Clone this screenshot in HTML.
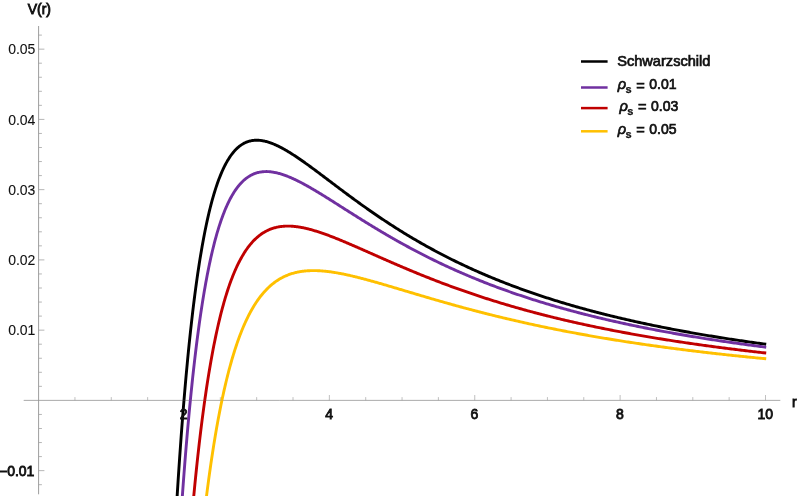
<!DOCTYPE html>
<html><head><meta charset="utf-8"><title>V(r)</title>
<style>
html,body{margin:0;padding:0;background:#fff;}
svg{display:block;}
text{font-family:"Liberation Sans",sans-serif;font-size:14px;fill:#111;stroke:#111;stroke-width:0.1px;}
text.b{stroke:#111;stroke-width:0.85px;}
text.lg{font-size:14.6px;stroke:#111;stroke-width:0.7px;}
.sub{font-size:11px;font-weight:bold;stroke-width:0.25px;}
.curves path{fill:none;stroke-width:2.9;stroke-linejoin:round;stroke-linecap:square;}
.axes line{stroke:#8c8c8c;stroke-width:1;}
.axes line.tx{stroke-width:0.65;}
.axes line.ty{stroke-width:0.75;}
</style></head>
<body>
<svg width="797" height="497" viewBox="0 0 797 497">
<rect width="797" height="497" fill="#ffffff"/>
<defs><clipPath id="cp"><rect x="24" y="26" width="757" height="469.5"/></clipPath></defs>
<g class="axes" opacity="0.85">
<line x1="23.6" y1="400.4" x2="780.3" y2="400.4" opacity="0.72"/>
<line x1="38.6" y1="26" x2="38.6" y2="494.3"/>
<line class="tx" x1="74.94" y1="400.40" x2="74.94" y2="397.10"/>
<line class="tx" x1="111.29" y1="400.40" x2="111.29" y2="397.10"/>
<line class="tx" x1="147.63" y1="400.40" x2="147.63" y2="397.10"/>
<line class="tx" x1="183.98" y1="400.40" x2="183.98" y2="395.00"/>
<line class="tx" x1="220.32" y1="400.40" x2="220.32" y2="397.10"/>
<line class="tx" x1="256.67" y1="400.40" x2="256.67" y2="397.10"/>
<line class="tx" x1="293.01" y1="400.40" x2="293.01" y2="397.10"/>
<line class="tx" x1="329.36" y1="400.40" x2="329.36" y2="395.00"/>
<line class="tx" x1="365.71" y1="400.40" x2="365.71" y2="397.10"/>
<line class="tx" x1="402.05" y1="400.40" x2="402.05" y2="397.10"/>
<line class="tx" x1="438.39" y1="400.40" x2="438.39" y2="397.10"/>
<line class="tx" x1="474.74" y1="400.40" x2="474.74" y2="395.00"/>
<line class="tx" x1="511.09" y1="400.40" x2="511.09" y2="397.10"/>
<line class="tx" x1="547.43" y1="400.40" x2="547.43" y2="397.10"/>
<line class="tx" x1="583.77" y1="400.40" x2="583.77" y2="397.10"/>
<line class="tx" x1="620.12" y1="400.40" x2="620.12" y2="395.00"/>
<line class="tx" x1="656.47" y1="400.40" x2="656.47" y2="397.10"/>
<line class="tx" x1="692.81" y1="400.40" x2="692.81" y2="397.10"/>
<line class="tx" x1="729.15" y1="400.40" x2="729.15" y2="397.10"/>
<line class="tx" x1="765.50" y1="400.40" x2="765.50" y2="395.00"/>
<line class="ty" x1="38.60" y1="484.70" x2="41.90" y2="484.70"/>
<line class="ty" x1="38.60" y1="470.65" x2="44.40" y2="470.65"/>
<line class="ty" x1="38.60" y1="456.60" x2="41.90" y2="456.60"/>
<line class="ty" x1="38.60" y1="442.55" x2="41.90" y2="442.55"/>
<line class="ty" x1="38.60" y1="428.50" x2="41.90" y2="428.50"/>
<line class="ty" x1="38.60" y1="414.45" x2="41.90" y2="414.45"/>
<line class="ty" x1="38.60" y1="386.35" x2="41.90" y2="386.35"/>
<line class="ty" x1="38.60" y1="372.30" x2="41.90" y2="372.30"/>
<line class="ty" x1="38.60" y1="358.25" x2="41.90" y2="358.25"/>
<line class="ty" x1="38.60" y1="344.20" x2="41.90" y2="344.20"/>
<line class="ty" x1="38.60" y1="330.15" x2="44.40" y2="330.15"/>
<line class="ty" x1="38.60" y1="316.10" x2="41.90" y2="316.10"/>
<line class="ty" x1="38.60" y1="302.05" x2="41.90" y2="302.05"/>
<line class="ty" x1="38.60" y1="288.00" x2="41.90" y2="288.00"/>
<line class="ty" x1="38.60" y1="273.95" x2="41.90" y2="273.95"/>
<line class="ty" x1="38.60" y1="259.90" x2="44.40" y2="259.90"/>
<line class="ty" x1="38.60" y1="245.85" x2="41.90" y2="245.85"/>
<line class="ty" x1="38.60" y1="231.80" x2="41.90" y2="231.80"/>
<line class="ty" x1="38.60" y1="217.75" x2="41.90" y2="217.75"/>
<line class="ty" x1="38.60" y1="203.70" x2="41.90" y2="203.70"/>
<line class="ty" x1="38.60" y1="189.65" x2="44.40" y2="189.65"/>
<line class="ty" x1="38.60" y1="175.60" x2="41.90" y2="175.60"/>
<line class="ty" x1="38.60" y1="161.55" x2="41.90" y2="161.55"/>
<line class="ty" x1="38.60" y1="147.50" x2="41.90" y2="147.50"/>
<line class="ty" x1="38.60" y1="133.45" x2="41.90" y2="133.45"/>
<line class="ty" x1="38.60" y1="119.40" x2="44.40" y2="119.40"/>
<line class="ty" x1="38.60" y1="105.35" x2="41.90" y2="105.35"/>
<line class="ty" x1="38.60" y1="91.30" x2="41.90" y2="91.30"/>
<line class="ty" x1="38.60" y1="77.25" x2="41.90" y2="77.25"/>
<line class="ty" x1="38.60" y1="63.20" x2="41.90" y2="63.20"/>
<line class="ty" x1="38.60" y1="49.15" x2="44.40" y2="49.15"/>
<line class="ty" x1="38.60" y1="35.10" x2="41.90" y2="35.10"/>
</g>
<g class="curves" clip-path="url(#cp)">
<path d="M175.26,527.27 L175.98,514.86 L176.71,502.82 L177.44,491.14 L178.16,479.80 L178.89,468.80 L179.62,458.13 L180.35,447.77 L181.07,437.72 L181.80,427.97 L182.53,418.50 L183.25,409.31 L183.98,400.40 L184.71,391.75 L185.43,383.35 L186.16,375.21 L186.89,367.30 L187.61,359.63 L188.34,352.18 L189.07,344.96 L189.80,337.95 L190.52,331.15 L191.25,324.54 L191.98,318.14 L192.70,311.93 L193.43,305.90 L194.16,300.05 L194.88,294.37 L195.61,288.87 L196.34,283.53 L197.06,278.35 L197.79,273.32 L198.52,268.45 L199.24,263.73 L199.97,259.14 L200.70,254.70 L201.43,250.39 L202.15,246.22 L202.88,242.17 L203.61,238.24 L204.33,234.44 L205.06,230.76 L205.79,227.19 L206.51,223.73 L207.24,220.38 L207.97,217.13 L208.69,213.99 L209.42,210.94 L210.15,208.00 L210.88,205.14 L211.60,202.38 L212.33,199.71 L213.06,197.13 L213.78,194.63 L214.51,192.21 L215.24,189.88 L215.96,187.62 L216.69,185.44 L217.42,183.33 L218.14,181.29 L218.87,179.33 L219.60,177.43 L220.32,175.60 L221.05,173.83 L221.78,172.13 L222.51,170.49 L223.23,168.91 L223.96,167.38 L224.69,165.92 L225.41,164.50 L226.14,163.15 L226.87,161.84 L227.59,160.58 L228.32,159.38 L229.05,158.22 L229.77,157.11 L230.50,156.05 L231.23,155.03 L231.96,154.05 L232.68,153.12 L233.41,152.23 L234.14,151.38 L234.86,150.57 L235.59,149.79 L236.32,149.05 L237.04,148.35 L237.77,147.69 L238.50,147.06 L239.22,146.46 L239.95,145.89 L240.68,145.36 L241.41,144.86 L242.13,144.39 L242.86,143.94 L243.59,143.53 L244.31,143.14 L245.04,142.79 L245.77,142.45 L246.49,142.15 L247.22,141.86 L247.95,141.61 L248.67,141.37 L249.40,141.16 L250.13,140.98 L250.85,140.81 L251.58,140.67 L252.31,140.54 L253.04,140.44 L253.76,140.36 L254.49,140.29 L255.22,140.25 L255.94,140.22 L256.67,140.21 L257.40,140.22 L258.12,140.25 L258.85,140.29 L259.58,140.35 L260.30,140.42 L261.03,140.51 L261.76,140.61 L262.49,140.73 L263.21,140.86 L263.94,141.01 L264.67,141.17 L265.39,141.34 L266.12,141.52 L266.85,141.72 L267.57,141.93 L268.30,142.15 L269.03,142.38 L269.75,142.62 L270.48,142.87 L271.21,143.14 L271.93,143.41 L272.66,143.69 L273.39,143.98 L274.12,144.29 L274.84,144.60 L275.57,144.92 L276.30,145.24 L277.02,145.58 L277.75,145.92 L278.48,146.27 L279.20,146.63 L279.93,147.00 L280.66,147.37 L281.38,147.75 L282.11,148.14 L282.84,148.54 L283.57,148.94 L284.29,149.34 L285.02,149.75 L285.75,150.17 L286.47,150.59 L287.20,151.02 L287.93,151.46 L288.65,151.90 L289.38,152.34 L290.11,152.79 L290.83,153.24 L291.56,153.70 L292.29,154.16 L293.01,154.63 L293.74,155.10 L294.47,155.57 L295.20,156.05 L295.92,156.53 L296.65,157.02 L297.38,157.50 L298.10,158.00 L298.83,158.49 L299.56,158.99 L300.28,159.49 L301.01,159.99 L301.74,160.50 L302.46,161.01 L303.19,161.52 L303.92,162.03 L304.65,162.55 L305.37,163.06 L306.10,163.58 L306.83,164.11 L307.55,164.63 L308.28,165.15 L309.01,165.68 L309.73,166.21 L310.46,166.74 L311.19,167.27 L311.91,167.81 L312.64,168.34 L313.37,168.88 L314.10,169.42 L314.82,169.95 L315.55,170.49 L316.28,171.03 L317.00,171.58 L317.73,172.12 L318.46,172.66 L319.18,173.21 L319.91,173.75 L320.64,174.30 L321.36,174.84 L322.09,175.39 L322.82,175.93 L323.54,176.48 L324.27,177.03 L325.00,177.58 L325.73,178.13 L326.45,178.67 L327.18,179.22 L327.91,179.77 L328.63,180.32 L329.36,180.87 L330.09,181.42 L330.81,181.97 L331.54,182.52 L332.27,183.06 L332.99,183.61 L333.72,184.16 L334.45,184.71 L335.18,185.26 L335.90,185.80 L336.63,186.35 L337.36,186.90 L338.08,187.44 L338.81,187.99 L339.54,188.54 L340.26,189.08 L340.99,189.62 L341.72,190.17 L342.44,190.71 L343.17,191.25 L343.90,191.80 L344.62,192.34 L345.35,192.88 L346.08,193.42 L346.81,193.96 L347.53,194.50 L348.26,195.04 L348.99,195.57 L349.71,196.11 L350.44,196.64 L351.17,197.18 L351.89,197.71 L352.62,198.25 L353.35,198.78 L354.07,199.31 L354.80,199.84 L355.53,200.37 L356.26,200.90 L356.98,201.42 L357.71,201.95 L358.44,202.48 L359.16,203.00 L359.89,203.52 L360.62,204.05 L361.34,204.57 L362.07,205.09 L362.80,205.61 L363.52,206.12 L364.25,206.64 L364.98,207.16 L365.70,207.67 L366.43,208.18 L367.16,208.70 L367.89,209.21 L368.61,209.72 L369.34,210.23 L370.07,210.73 L370.79,211.24 L371.52,211.74 L372.25,212.25 L372.97,212.75 L373.70,213.25 L374.43,213.75 L375.15,214.25 L375.88,214.75 L376.61,215.25 L377.34,215.74 L378.06,216.24 L378.79,216.73 L379.52,217.22 L380.24,217.71 L380.97,218.20 L381.70,218.69 L382.42,219.17 L383.15,219.66 L383.88,220.14 L384.60,220.62 L385.33,221.10 L386.06,221.58 L386.79,222.06 L387.51,222.54 L388.24,223.01 L388.97,223.49 L389.69,223.96 L390.42,224.43 L391.15,224.90 L391.87,225.37 L392.60,225.84 L393.33,226.31 L394.05,226.77 L394.78,227.24 L395.51,227.70 L396.23,228.16 L396.96,228.62 L397.69,229.08 L398.42,229.54 L399.14,229.99 L399.87,230.45 L400.60,230.90 L401.32,231.35 L402.05,231.80 L402.78,232.25 L404.23,233.14 L405.68,234.03 L407.14,234.91 L408.59,235.79 L410.05,236.66 L411.50,237.53 L412.95,238.39 L414.41,239.25 L415.86,240.10 L417.31,240.94 L418.77,241.79 L420.22,242.62 L421.68,243.45 L423.13,244.27 L424.58,245.09 L426.04,245.91 L427.49,246.72 L428.95,247.52 L430.40,248.32 L431.85,249.11 L433.31,249.90 L434.76,250.68 L436.21,251.46 L437.67,252.23 L439.12,253.00 L440.58,253.76 L442.03,254.52 L443.48,255.27 L444.94,256.02 L446.39,256.76 L447.84,257.50 L449.30,258.23 L450.75,258.96 L452.21,259.69 L453.66,260.41 L455.11,261.12 L456.57,261.83 L458.02,262.53 L459.48,263.23 L460.93,263.93 L462.38,264.62 L463.84,265.30 L465.29,265.99 L466.74,266.66 L468.20,267.34 L469.65,268.00 L471.11,268.67 L472.56,269.33 L474.01,269.98 L475.47,270.63 L476.92,271.28 L478.37,271.92 L479.83,272.56 L481.28,273.19 L482.74,273.82 L484.19,274.45 L485.64,275.07 L487.10,275.68 L488.55,276.30 L490.00,276.90 L491.46,277.51 L492.91,278.11 L494.37,278.71 L495.82,279.30 L497.27,279.89 L498.73,280.47 L500.18,281.05 L501.64,281.63 L503.09,282.20 L504.54,282.77 L506.00,283.34 L507.45,283.90 L508.90,284.46 L510.36,285.01 L511.81,285.56 L513.27,286.11 L514.72,286.65 L516.17,287.19 L517.63,287.73 L519.08,288.26 L520.53,288.79 L521.99,289.32 L523.44,289.84 L524.90,290.36 L526.35,290.88 L527.80,291.39 L529.26,291.90 L530.71,292.41 L532.17,292.91 L533.62,293.41 L535.07,293.90 L536.53,294.40 L537.98,294.89 L539.43,295.37 L540.89,295.86 L542.34,296.34 L543.80,296.81 L545.25,297.29 L546.70,297.76 L548.16,298.23 L549.61,298.69 L551.06,299.16 L552.52,299.61 L553.97,300.07 L555.43,300.52 L556.88,300.98 L558.33,301.42 L559.79,301.87 L561.24,302.31 L562.69,302.75 L564.15,303.19 L565.60,303.62 L567.06,304.05 L568.51,304.48 L569.96,304.90 L571.42,305.33 L572.87,305.75 L574.33,306.16 L575.78,306.58 L577.23,306.99 L578.69,307.40 L580.14,307.81 L581.59,308.21 L583.05,308.61 L584.50,309.01 L585.96,309.41 L587.41,309.81 L588.86,310.20 L590.32,310.59 L591.77,310.98 L593.22,311.36 L594.68,311.74 L596.13,312.12 L597.59,312.50 L599.04,312.88 L600.49,313.25 L601.95,313.62 L603.40,313.99 L604.86,314.36 L606.31,314.72 L607.76,315.08 L609.22,315.44 L610.67,315.80 L612.12,316.16 L613.58,316.51 L615.03,316.86 L616.49,317.21 L617.94,317.56 L619.39,317.90 L620.85,318.25 L622.30,318.59 L623.75,318.93 L625.21,319.26 L626.66,319.60 L628.12,319.93 L629.57,320.26 L631.02,320.59 L632.48,320.92 L633.93,321.24 L635.38,321.57 L636.84,321.89 L638.29,322.21 L639.75,322.53 L641.20,322.84 L642.65,323.15 L644.11,323.47 L645.56,323.78 L647.02,324.09 L648.47,324.39 L649.92,324.70 L651.38,325.00 L652.83,325.30 L654.28,325.60 L655.74,325.90 L657.19,326.19 L658.65,326.49 L660.10,326.78 L661.55,327.07 L663.01,327.36 L664.46,327.65 L665.91,327.94 L667.37,328.22 L668.82,328.50 L670.28,328.78 L671.73,329.06 L673.18,329.34 L674.64,329.62 L676.09,329.89 L677.55,330.17 L679.00,330.44 L680.45,330.71 L681.91,330.98 L683.36,331.24 L684.81,331.51 L686.27,331.77 L687.72,332.04 L689.18,332.30 L690.63,332.56 L692.08,332.82 L693.54,333.07 L694.99,333.33 L696.44,333.58 L697.90,333.84 L699.35,334.09 L700.81,334.34 L702.26,334.59 L703.71,334.83 L705.17,335.08 L706.62,335.32 L708.07,335.57 L709.53,335.81 L710.98,336.05 L712.44,336.29 L713.89,336.53 L715.34,336.76 L716.80,337.00 L718.25,337.23 L719.71,337.46 L721.16,337.70 L722.61,337.93 L724.07,338.16 L725.52,338.38 L726.97,338.61 L728.43,338.84 L729.88,339.06 L731.34,339.28 L732.79,339.50 L734.24,339.73 L735.70,339.94 L737.15,340.16 L738.60,340.38 L740.06,340.60 L741.51,340.81 L742.97,341.03 L744.42,341.24 L745.87,341.45 L747.33,341.66 L748.78,341.87 L750.24,342.08 L751.69,342.28 L753.14,342.49 L754.60,342.70 L756.05,342.90 L757.50,343.10 L758.96,343.30 L760.41,343.51 L761.87,343.71 L763.32,343.90 L764.77,344.10" stroke="#000000"/>
<path d="M179.62,536.34 L180.35,525.18 L181.07,514.34 L181.80,503.81 L182.53,493.58 L183.25,483.64 L183.98,473.99 L184.71,464.61 L185.43,455.49 L186.16,446.63 L186.89,438.03 L187.61,429.67 L188.34,421.55 L189.07,413.65 L189.80,405.98 L190.52,398.53 L191.25,391.29 L191.98,384.25 L192.70,377.42 L193.43,370.77 L194.16,364.32 L194.88,358.05 L195.61,351.96 L196.34,346.04 L197.06,340.28 L197.79,334.70 L198.52,329.27 L199.24,323.99 L199.97,318.87 L200.70,313.89 L201.43,309.06 L202.15,304.36 L202.88,299.80 L203.61,295.37 L204.33,291.06 L205.06,286.89 L205.79,282.83 L206.51,278.89 L207.24,275.06 L207.97,271.35 L208.69,267.74 L209.42,264.24 L210.15,260.85 L210.88,257.55 L211.60,254.35 L212.33,251.24 L213.06,248.23 L213.78,245.31 L214.51,242.48 L215.24,239.73 L215.96,237.06 L216.69,234.48 L217.42,231.97 L218.14,229.54 L218.87,227.19 L219.60,224.91 L220.32,222.70 L221.05,220.55 L221.78,218.48 L222.51,216.47 L223.23,214.53 L223.96,212.65 L224.69,210.83 L225.41,209.07 L226.14,207.37 L226.87,205.72 L227.59,204.13 L228.32,202.59 L229.05,201.10 L229.77,199.67 L230.50,198.28 L231.23,196.94 L231.96,195.65 L232.68,194.41 L233.41,193.21 L234.14,192.06 L234.86,190.94 L235.59,189.87 L236.32,188.84 L237.04,187.85 L237.77,186.89 L238.50,185.98 L239.22,185.10 L239.95,184.26 L240.68,183.45 L241.41,182.67 L242.13,181.93 L242.86,181.22 L243.59,180.54 L244.31,179.90 L245.04,179.28 L245.77,178.69 L246.49,178.13 L247.22,177.60 L247.95,177.10 L248.67,176.62 L249.40,176.16 L250.13,175.74 L250.85,175.33 L251.58,174.95 L252.31,174.60 L253.04,174.26 L253.76,173.95 L254.49,173.66 L255.22,173.40 L255.94,173.15 L256.67,172.92 L257.40,172.71 L258.12,172.52 L258.85,172.35 L259.58,172.20 L260.30,172.06 L261.03,171.95 L261.76,171.85 L262.49,171.76 L263.21,171.69 L263.94,171.64 L264.67,171.60 L265.39,171.58 L266.12,171.57 L266.85,171.57 L267.57,171.59 L268.30,171.63 L269.03,171.67 L269.75,171.73 L270.48,171.80 L271.21,171.88 L271.93,171.98 L272.66,172.08 L273.39,172.20 L274.12,172.33 L274.84,172.46 L275.57,172.61 L276.30,172.77 L277.02,172.94 L277.75,173.12 L278.48,173.30 L279.20,173.50 L279.93,173.70 L280.66,173.92 L281.38,174.14 L282.11,174.37 L282.84,174.61 L283.57,174.85 L284.29,175.11 L285.02,175.37 L285.75,175.63 L286.47,175.91 L287.20,176.19 L287.93,176.48 L288.65,176.77 L289.38,177.07 L290.11,177.38 L290.83,177.69 L291.56,178.00 L292.29,178.33 L293.01,178.66 L293.74,178.99 L294.47,179.33 L295.20,179.67 L295.92,180.02 L296.65,180.37 L297.38,180.73 L298.10,181.09 L298.83,181.46 L299.56,181.83 L300.28,182.20 L301.01,182.58 L301.74,182.96 L302.46,183.34 L303.19,183.73 L303.92,184.12 L304.65,184.52 L305.37,184.92 L306.10,185.32 L306.83,185.72 L307.55,186.13 L308.28,186.54 L309.01,186.95 L309.73,187.37 L310.46,187.79 L311.19,188.21 L311.91,188.63 L312.64,189.05 L313.37,189.48 L314.10,189.91 L314.82,190.34 L315.55,190.77 L316.28,191.21 L317.00,191.64 L317.73,192.08 L318.46,192.52 L319.18,192.96 L319.91,193.40 L320.64,193.85 L321.36,194.29 L322.09,194.74 L322.82,195.19 L323.54,195.64 L324.27,196.09 L325.00,196.54 L325.73,196.99 L326.45,197.44 L327.18,197.90 L327.91,198.35 L328.63,198.81 L329.36,199.27 L330.09,199.72 L330.81,200.18 L331.54,200.64 L332.27,201.10 L332.99,201.56 L333.72,202.02 L334.45,202.48 L335.18,202.94 L335.90,203.40 L336.63,203.86 L337.36,204.32 L338.08,204.78 L338.81,205.25 L339.54,205.71 L340.26,206.17 L340.99,206.63 L341.72,207.10 L342.44,207.56 L343.17,208.02 L343.90,208.48 L344.62,208.95 L345.35,209.41 L346.08,209.87 L346.81,210.33 L347.53,210.79 L348.26,211.25 L348.99,211.72 L349.71,212.18 L350.44,212.64 L351.17,213.10 L351.89,213.56 L352.62,214.02 L353.35,214.48 L354.07,214.94 L354.80,215.39 L355.53,215.85 L356.26,216.31 L356.98,216.77 L357.71,217.22 L358.44,217.68 L359.16,218.13 L359.89,218.59 L360.62,219.04 L361.34,219.50 L362.07,219.95 L362.80,220.40 L363.52,220.85 L364.25,221.31 L364.98,221.76 L365.70,222.21 L366.43,222.65 L367.16,223.10 L367.89,223.55 L368.61,224.00 L369.34,224.44 L370.07,224.89 L370.79,225.33 L371.52,225.78 L372.25,226.22 L372.97,226.66 L373.70,227.10 L374.43,227.54 L375.15,227.98 L375.88,228.42 L376.61,228.86 L377.34,229.30 L378.06,229.73 L378.79,230.17 L379.52,230.60 L380.24,231.03 L380.97,231.47 L381.70,231.90 L382.42,232.33 L383.15,232.76 L383.88,233.19 L384.60,233.61 L385.33,234.04 L386.06,234.47 L386.79,234.89 L387.51,235.31 L388.24,235.74 L388.97,236.16 L389.69,236.58 L390.42,237.00 L391.15,237.42 L391.87,237.84 L392.60,238.25 L393.33,238.67 L394.05,239.08 L394.78,239.50 L395.51,239.91 L396.23,240.32 L396.96,240.73 L397.69,241.14 L398.42,241.55 L399.14,241.96 L399.87,242.36 L400.60,242.77 L401.32,243.17 L402.05,243.57 L402.78,243.98 L404.23,244.78 L405.68,245.57 L407.14,246.37 L408.59,247.15 L410.05,247.94 L411.50,248.72 L412.95,249.49 L414.41,250.26 L415.86,251.03 L417.31,251.79 L418.77,252.55 L420.22,253.30 L421.68,254.05 L423.13,254.79 L424.58,255.53 L426.04,256.27 L427.49,257.00 L428.95,257.73 L430.40,258.45 L431.85,259.17 L433.31,259.88 L434.76,260.59 L436.21,261.30 L437.67,262.00 L439.12,262.69 L440.58,263.39 L442.03,264.08 L443.48,264.76 L444.94,265.44 L446.39,266.12 L447.84,266.79 L449.30,267.46 L450.75,268.12 L452.21,268.78 L453.66,269.43 L455.11,270.08 L456.57,270.73 L458.02,271.37 L459.48,272.01 L460.93,272.65 L462.38,273.28 L463.84,273.91 L465.29,274.53 L466.74,275.15 L468.20,275.76 L469.65,276.37 L471.11,276.98 L472.56,277.59 L474.01,278.19 L475.47,278.78 L476.92,279.37 L478.37,279.96 L479.83,280.55 L481.28,281.13 L482.74,281.70 L484.19,282.28 L485.64,282.85 L487.10,283.41 L488.55,283.98 L490.00,284.54 L491.46,285.09 L492.91,285.64 L494.37,286.19 L495.82,286.74 L497.27,287.28 L498.73,287.82 L500.18,288.35 L501.64,288.88 L503.09,289.41 L504.54,289.94 L506.00,290.46 L507.45,290.97 L508.90,291.49 L510.36,292.00 L511.81,292.51 L513.27,293.01 L514.72,293.52 L516.17,294.01 L517.63,294.51 L519.08,295.00 L520.53,295.49 L521.99,295.98 L523.44,296.46 L524.90,296.94 L526.35,297.42 L527.80,297.89 L529.26,298.36 L530.71,298.83 L532.17,299.29 L533.62,299.76 L535.07,300.21 L536.53,300.67 L537.98,301.12 L539.43,301.57 L540.89,302.02 L542.34,302.47 L543.80,302.91 L545.25,303.35 L546.70,303.78 L548.16,304.22 L549.61,304.65 L551.06,305.08 L552.52,305.50 L553.97,305.93 L555.43,306.35 L556.88,306.77 L558.33,307.18 L559.79,307.59 L561.24,308.00 L562.69,308.41 L564.15,308.82 L565.60,309.22 L567.06,309.62 L568.51,310.02 L569.96,310.41 L571.42,310.80 L572.87,311.19 L574.33,311.58 L575.78,311.97 L577.23,312.35 L578.69,312.73 L580.14,313.11 L581.59,313.49 L583.05,313.86 L584.50,314.23 L585.96,314.60 L587.41,314.97 L588.86,315.33 L590.32,315.70 L591.77,316.06 L593.22,316.42 L594.68,316.77 L596.13,317.13 L597.59,317.48 L599.04,317.83 L600.49,318.18 L601.95,318.52 L603.40,318.87 L604.86,319.21 L606.31,319.55 L607.76,319.89 L609.22,320.22 L610.67,320.55 L612.12,320.89 L613.58,321.22 L615.03,321.54 L616.49,321.87 L617.94,322.19 L619.39,322.51 L620.85,322.83 L622.30,323.15 L623.75,323.47 L625.21,323.78 L626.66,324.10 L628.12,324.41 L629.57,324.72 L631.02,325.02 L632.48,325.33 L633.93,325.63 L635.38,325.93 L636.84,326.23 L638.29,326.53 L639.75,326.83 L641.20,327.12 L642.65,327.42 L644.11,327.71 L645.56,328.00 L647.02,328.29 L648.47,328.57 L649.92,328.86 L651.38,329.14 L652.83,329.42 L654.28,329.70 L655.74,329.98 L657.19,330.26 L658.65,330.53 L660.10,330.81 L661.55,331.08 L663.01,331.35 L664.46,331.62 L665.91,331.89 L667.37,332.15 L668.82,332.42 L670.28,332.68 L671.73,332.94 L673.18,333.20 L674.64,333.46 L676.09,333.72 L677.55,333.98 L679.00,334.23 L680.45,334.48 L681.91,334.73 L683.36,334.98 L684.81,335.23 L686.27,335.48 L687.72,335.73 L689.18,335.97 L690.63,336.22 L692.08,336.46 L693.54,336.70 L694.99,336.94 L696.44,337.18 L697.90,337.41 L699.35,337.65 L700.81,337.88 L702.26,338.12 L703.71,338.35 L705.17,338.58 L706.62,338.81 L708.07,339.04 L709.53,339.26 L710.98,339.49 L712.44,339.71 L713.89,339.94 L715.34,340.16 L716.80,340.38 L718.25,340.60 L719.71,340.82 L721.16,341.03 L722.61,341.25 L724.07,341.47 L725.52,341.68 L726.97,341.89 L728.43,342.10 L729.88,342.31 L731.34,342.52 L732.79,342.73 L734.24,342.94 L735.70,343.15 L737.15,343.35 L738.60,343.55 L740.06,343.76 L741.51,343.96 L742.97,344.16 L744.42,344.36 L745.87,344.56 L747.33,344.76 L748.78,344.95 L750.24,345.15 L751.69,345.34 L753.14,345.54 L754.60,345.73 L756.05,345.92 L757.50,346.11 L758.96,346.30 L760.41,346.49 L761.87,346.68 L763.32,346.87 L764.77,347.05" stroke="#7030A0"/>
<path d="M190.52,532.18 L191.25,523.67 L191.98,515.38 L192.70,507.31 L193.43,499.45 L194.16,491.79 L194.88,484.34 L195.61,477.08 L196.34,470.01 L197.06,463.12 L197.79,456.41 L198.52,449.88 L199.24,443.52 L199.97,437.32 L200.70,431.28 L201.43,425.40 L202.15,419.67 L202.88,414.09 L203.61,408.66 L204.33,403.36 L205.06,398.21 L205.79,393.18 L206.51,388.29 L207.24,383.52 L207.97,378.88 L208.69,374.36 L209.42,369.95 L210.15,365.66 L210.88,361.48 L211.60,357.41 L212.33,353.44 L213.06,349.58 L213.78,345.82 L214.51,342.16 L215.24,338.59 L215.96,335.12 L216.69,331.73 L217.42,328.44 L218.14,325.23 L218.87,322.10 L219.60,319.06 L220.32,316.10 L221.05,313.22 L221.78,310.41 L222.51,307.68 L223.23,305.02 L223.96,302.43 L224.69,299.91 L225.41,297.45 L226.14,295.07 L226.87,292.74 L227.59,290.48 L228.32,288.29 L229.05,286.15 L229.77,284.07 L230.50,282.04 L231.23,280.07 L231.96,278.16 L232.68,276.30 L233.41,274.49 L234.14,272.73 L234.86,271.02 L235.59,269.36 L236.32,267.75 L237.04,266.18 L237.77,264.65 L238.50,263.17 L239.22,261.73 L239.95,260.34 L240.68,258.98 L241.41,257.67 L242.13,256.39 L242.86,255.15 L243.59,253.95 L244.31,252.79 L245.04,251.66 L245.77,250.56 L246.49,249.50 L247.22,248.47 L247.95,247.48 L248.67,246.51 L249.40,245.58 L250.13,244.67 L250.85,243.80 L251.58,242.95 L252.31,242.14 L253.04,241.35 L253.76,240.58 L254.49,239.85 L255.22,239.13 L255.94,238.45 L256.67,237.78 L257.40,237.15 L258.12,236.53 L258.85,235.94 L259.58,235.37 L260.30,234.82 L261.03,234.29 L261.76,233.79 L262.49,233.30 L263.21,232.83 L263.94,232.39 L264.67,231.96 L265.39,231.55 L266.12,231.16 L266.85,230.78 L267.57,230.43 L268.30,230.09 L269.03,229.76 L269.75,229.46 L270.48,229.17 L271.21,228.89 L271.93,228.63 L272.66,228.38 L273.39,228.15 L274.12,227.94 L274.84,227.73 L275.57,227.54 L276.30,227.37 L277.02,227.20 L277.75,227.05 L278.48,226.91 L279.20,226.78 L279.93,226.67 L280.66,226.56 L281.38,226.47 L282.11,226.39 L282.84,226.32 L283.57,226.26 L284.29,226.21 L285.02,226.16 L285.75,226.13 L286.47,226.11 L287.20,226.10 L287.93,226.10 L288.65,226.10 L289.38,226.12 L290.11,226.14 L290.83,226.17 L291.56,226.21 L292.29,226.26 L293.01,226.31 L293.74,226.37 L294.47,226.44 L295.20,226.52 L295.92,226.60 L296.65,226.69 L297.38,226.79 L298.10,226.90 L298.83,227.01 L299.56,227.12 L300.28,227.24 L301.01,227.37 L301.74,227.51 L302.46,227.65 L303.19,227.79 L303.92,227.94 L304.65,228.10 L305.37,228.26 L306.10,228.43 L306.83,228.60 L307.55,228.77 L308.28,228.95 L309.01,229.14 L309.73,229.33 L310.46,229.52 L311.19,229.72 L311.91,229.92 L312.64,230.13 L313.37,230.34 L314.10,230.55 L314.82,230.77 L315.55,230.99 L316.28,231.21 L317.00,231.44 L317.73,231.67 L318.46,231.90 L319.18,232.14 L319.91,232.38 L320.64,232.63 L321.36,232.87 L322.09,233.12 L322.82,233.37 L323.54,233.63 L324.27,233.88 L325.00,234.14 L325.73,234.41 L326.45,234.67 L327.18,234.94 L327.91,235.21 L328.63,235.48 L329.36,235.75 L330.09,236.03 L330.81,236.30 L331.54,236.58 L332.27,236.87 L332.99,237.15 L333.72,237.43 L334.45,237.72 L335.18,238.01 L335.90,238.30 L336.63,238.59 L337.36,238.88 L338.08,239.18 L338.81,239.47 L339.54,239.77 L340.26,240.07 L340.99,240.37 L341.72,240.67 L342.44,240.97 L343.17,241.27 L343.90,241.58 L344.62,241.88 L345.35,242.19 L346.08,242.50 L346.81,242.80 L347.53,243.11 L348.26,243.42 L348.99,243.73 L349.71,244.05 L350.44,244.36 L351.17,244.67 L351.89,244.98 L352.62,245.30 L353.35,245.61 L354.07,245.93 L354.80,246.25 L355.53,246.56 L356.26,246.88 L356.98,247.20 L357.71,247.51 L358.44,247.83 L359.16,248.15 L359.89,248.47 L360.62,248.79 L361.34,249.11 L362.07,249.43 L362.80,249.75 L363.52,250.07 L364.25,250.39 L364.98,250.71 L365.70,251.03 L366.43,251.36 L367.16,251.68 L367.89,252.00 L368.61,252.32 L369.34,252.64 L370.07,252.96 L370.79,253.29 L371.52,253.61 L372.25,253.93 L372.97,254.25 L373.70,254.57 L374.43,254.89 L375.15,255.21 L375.88,255.54 L376.61,255.86 L377.34,256.18 L378.06,256.50 L378.79,256.82 L379.52,257.14 L380.24,257.46 L380.97,257.78 L381.70,258.10 L382.42,258.42 L383.15,258.74 L383.88,259.06 L384.60,259.38 L385.33,259.70 L386.06,260.02 L386.79,260.33 L387.51,260.65 L388.24,260.97 L388.97,261.29 L389.69,261.60 L390.42,261.92 L391.15,262.24 L391.87,262.55 L392.60,262.87 L393.33,263.18 L394.05,263.50 L394.78,263.81 L395.51,264.12 L396.23,264.44 L396.96,264.75 L397.69,265.06 L398.42,265.37 L399.14,265.68 L399.87,266.00 L400.60,266.31 L401.32,266.62 L402.05,266.92 L402.78,267.23 L404.23,267.85 L405.68,268.46 L407.14,269.08 L408.59,269.69 L410.05,270.29 L411.50,270.90 L412.95,271.50 L414.41,272.10 L415.86,272.70 L417.31,273.30 L418.77,273.89 L420.22,274.48 L421.68,275.07 L423.13,275.65 L424.58,276.24 L426.04,276.82 L427.49,277.40 L428.95,277.97 L430.40,278.54 L431.85,279.11 L433.31,279.68 L434.76,280.25 L436.21,280.81 L437.67,281.37 L439.12,281.92 L440.58,282.48 L442.03,283.03 L443.48,283.58 L444.94,284.12 L446.39,284.67 L447.84,285.21 L449.30,285.74 L450.75,286.28 L452.21,286.81 L453.66,287.34 L455.11,287.86 L456.57,288.39 L458.02,288.91 L459.48,289.43 L460.93,289.94 L462.38,290.45 L463.84,290.96 L465.29,291.47 L466.74,291.98 L468.20,292.48 L469.65,292.98 L471.11,293.47 L472.56,293.96 L474.01,294.46 L475.47,294.94 L476.92,295.43 L478.37,295.91 L479.83,296.39 L481.28,296.87 L482.74,297.34 L484.19,297.81 L485.64,298.28 L487.10,298.75 L488.55,299.21 L490.00,299.67 L491.46,300.13 L492.91,300.59 L494.37,301.04 L495.82,301.49 L497.27,301.94 L498.73,302.39 L500.18,302.83 L501.64,303.27 L503.09,303.71 L504.54,304.14 L506.00,304.58 L507.45,305.01 L508.90,305.44 L510.36,305.86 L511.81,306.28 L513.27,306.70 L514.72,307.12 L516.17,307.54 L517.63,307.95 L519.08,308.36 L520.53,308.77 L521.99,309.18 L523.44,309.58 L524.90,309.98 L526.35,310.38 L527.80,310.78 L529.26,311.17 L530.71,311.57 L532.17,311.96 L533.62,312.34 L535.07,312.73 L536.53,313.11 L537.98,313.49 L539.43,313.87 L540.89,314.25 L542.34,314.62 L543.80,314.99 L545.25,315.36 L546.70,315.73 L548.16,316.10 L549.61,316.46 L551.06,316.82 L552.52,317.18 L553.97,317.54 L555.43,317.90 L556.88,318.25 L558.33,318.60 L559.79,318.95 L561.24,319.30 L562.69,319.64 L564.15,319.98 L565.60,320.32 L567.06,320.66 L568.51,321.00 L569.96,321.34 L571.42,321.67 L572.87,322.00 L574.33,322.33 L575.78,322.66 L577.23,322.98 L578.69,323.31 L580.14,323.63 L581.59,323.95 L583.05,324.27 L584.50,324.58 L585.96,324.90 L587.41,325.21 L588.86,325.52 L590.32,325.83 L591.77,326.14 L593.22,326.44 L594.68,326.75 L596.13,327.05 L597.59,327.35 L599.04,327.65 L600.49,327.95 L601.95,328.24 L603.40,328.54 L604.86,328.83 L606.31,329.12 L607.76,329.41 L609.22,329.69 L610.67,329.98 L612.12,330.26 L613.58,330.55 L615.03,330.83 L616.49,331.11 L617.94,331.38 L619.39,331.66 L620.85,331.93 L622.30,332.21 L623.75,332.48 L625.21,332.75 L626.66,333.02 L628.12,333.28 L629.57,333.55 L631.02,333.81 L632.48,334.07 L633.93,334.34 L635.38,334.59 L636.84,334.85 L638.29,335.11 L639.75,335.36 L641.20,335.62 L642.65,335.87 L644.11,336.12 L645.56,336.37 L647.02,336.62 L648.47,336.87 L649.92,337.11 L651.38,337.36 L652.83,337.60 L654.28,337.84 L655.74,338.08 L657.19,338.32 L658.65,338.56 L660.10,338.79 L661.55,339.03 L663.01,339.26 L664.46,339.49 L665.91,339.73 L667.37,339.96 L668.82,340.18 L670.28,340.41 L671.73,340.64 L673.18,340.86 L674.64,341.09 L676.09,341.31 L677.55,341.53 L679.00,341.75 L680.45,341.97 L681.91,342.19 L683.36,342.40 L684.81,342.62 L686.27,342.83 L687.72,343.05 L689.18,343.26 L690.63,343.47 L692.08,343.68 L693.54,343.89 L694.99,344.10 L696.44,344.30 L697.90,344.51 L699.35,344.71 L700.81,344.92 L702.26,345.12 L703.71,345.32 L705.17,345.52 L706.62,345.72 L708.07,345.92 L709.53,346.12 L710.98,346.31 L712.44,346.51 L713.89,346.70 L715.34,346.89 L716.80,347.09 L718.25,347.28 L719.71,347.47 L721.16,347.66 L722.61,347.84 L724.07,348.03 L725.52,348.22 L726.97,348.40 L728.43,348.59 L729.88,348.77 L731.34,348.95 L732.79,349.13 L734.24,349.31 L735.70,349.49 L737.15,349.67 L738.60,349.85 L740.06,350.03 L741.51,350.20 L742.97,350.38 L744.42,350.55 L745.87,350.72 L747.33,350.90 L748.78,351.07 L750.24,351.24 L751.69,351.41 L753.14,351.58 L754.60,351.75 L756.05,351.91 L757.50,352.08 L758.96,352.25 L760.41,352.41 L761.87,352.57 L763.32,352.74 L764.77,352.90" stroke="#C00000"/>
<path d="M202.15,533.32 L202.88,526.74 L203.61,520.31 L204.33,514.04 L205.06,507.92 L205.79,501.94 L206.51,496.11 L207.24,490.42 L207.97,484.86 L208.69,479.43 L209.42,474.13 L210.15,468.96 L210.88,463.91 L211.60,458.98 L212.33,454.17 L213.06,449.47 L213.78,444.88 L214.51,440.40 L215.24,436.03 L215.96,431.75 L216.69,427.58 L217.42,423.51 L218.14,419.53 L218.87,415.65 L219.60,411.86 L220.32,408.16 L221.05,404.54 L221.78,401.01 L222.51,397.56 L223.23,394.20 L223.96,390.91 L224.69,387.70 L225.41,384.56 L226.14,381.50 L226.87,378.51 L227.59,375.60 L228.32,372.75 L229.05,369.96 L229.77,367.25 L230.50,364.59 L231.23,362.00 L231.96,359.47 L232.68,357.01 L233.41,354.59 L234.14,352.24 L234.86,349.94 L235.59,347.70 L236.32,345.51 L237.04,343.37 L237.77,341.29 L238.50,339.25 L239.22,337.26 L239.95,335.32 L240.68,333.43 L241.41,331.58 L242.13,329.78 L242.86,328.02 L243.59,326.30 L244.31,324.63 L245.04,322.99 L245.77,321.40 L246.49,319.84 L247.22,318.32 L247.95,316.84 L248.67,315.40 L249.40,313.99 L250.13,312.62 L250.85,311.28 L251.58,309.97 L252.31,308.70 L253.04,307.46 L253.76,306.25 L254.49,305.07 L255.22,303.92 L255.94,302.80 L256.67,301.71 L257.40,300.65 L258.12,299.61 L258.85,298.61 L259.58,297.62 L260.30,296.67 L261.03,295.74 L261.76,294.83 L262.49,293.95 L263.21,293.09 L263.94,292.26 L264.67,291.44 L265.39,290.65 L266.12,289.88 L266.85,289.14 L267.57,288.41 L268.30,287.71 L269.03,287.02 L269.75,286.35 L270.48,285.71 L271.21,285.08 L271.93,284.47 L272.66,283.88 L273.39,283.30 L274.12,282.74 L274.84,282.20 L275.57,281.68 L276.30,281.17 L277.02,280.68 L277.75,280.20 L278.48,279.74 L279.20,279.30 L279.93,278.87 L280.66,278.45 L281.38,278.05 L282.11,277.66 L282.84,277.28 L283.57,276.92 L284.29,276.57 L285.02,276.23 L285.75,275.90 L286.47,275.59 L287.20,275.29 L287.93,275.00 L288.65,274.72 L289.38,274.45 L290.11,274.20 L290.83,273.95 L291.56,273.72 L292.29,273.49 L293.01,273.28 L293.74,273.07 L294.47,272.88 L295.20,272.69 L295.92,272.52 L296.65,272.35 L297.38,272.19 L298.10,272.04 L298.83,271.90 L299.56,271.76 L300.28,271.64 L301.01,271.52 L301.74,271.41 L302.46,271.31 L303.19,271.22 L303.92,271.13 L304.65,271.05 L305.37,270.98 L306.10,270.91 L306.83,270.85 L307.55,270.80 L308.28,270.75 L309.01,270.71 L309.73,270.68 L310.46,270.65 L311.19,270.63 L311.91,270.62 L312.64,270.61 L313.37,270.60 L314.10,270.60 L314.82,270.61 L315.55,270.62 L316.28,270.64 L317.00,270.66 L317.73,270.69 L318.46,270.72 L319.18,270.76 L319.91,270.80 L320.64,270.84 L321.36,270.89 L322.09,270.95 L322.82,271.01 L323.54,271.07 L324.27,271.14 L325.00,271.21 L325.73,271.28 L326.45,271.36 L327.18,271.44 L327.91,271.53 L328.63,271.62 L329.36,271.71 L330.09,271.81 L330.81,271.91 L331.54,272.01 L332.27,272.12 L332.99,272.22 L333.72,272.34 L334.45,272.45 L335.18,272.57 L335.90,272.69 L336.63,272.82 L337.36,272.94 L338.08,273.07 L338.81,273.20 L339.54,273.34 L340.26,273.47 L340.99,273.61 L341.72,273.75 L342.44,273.90 L343.17,274.04 L343.90,274.19 L344.62,274.34 L345.35,274.50 L346.08,274.65 L346.81,274.81 L347.53,274.97 L348.26,275.13 L348.99,275.29 L349.71,275.45 L350.44,275.62 L351.17,275.79 L351.89,275.96 L352.62,276.13 L353.35,276.30 L354.07,276.48 L354.80,276.65 L355.53,276.83 L356.26,277.01 L356.98,277.19 L357.71,277.37 L358.44,277.55 L359.16,277.74 L359.89,277.92 L360.62,278.11 L361.34,278.30 L362.07,278.48 L362.80,278.68 L363.52,278.87 L364.25,279.06 L364.98,279.25 L365.70,279.45 L366.43,279.64 L367.16,279.84 L367.89,280.04 L368.61,280.23 L369.34,280.43 L370.07,280.63 L370.79,280.83 L371.52,281.04 L372.25,281.24 L372.97,281.44 L373.70,281.64 L374.43,281.85 L375.15,282.05 L375.88,282.26 L376.61,282.47 L377.34,282.67 L378.06,282.88 L378.79,283.09 L379.52,283.30 L380.24,283.51 L380.97,283.72 L381.70,283.93 L382.42,284.14 L383.15,284.35 L383.88,284.56 L384.60,284.77 L385.33,284.98 L386.06,285.20 L386.79,285.41 L387.51,285.62 L388.24,285.84 L388.97,286.05 L389.69,286.27 L390.42,286.48 L391.15,286.70 L391.87,286.91 L392.60,287.13 L393.33,287.34 L394.05,287.56 L394.78,287.77 L395.51,287.99 L396.23,288.21 L396.96,288.42 L397.69,288.64 L398.42,288.85 L399.14,289.07 L399.87,289.29 L400.60,289.50 L401.32,289.72 L402.05,289.94 L402.78,290.16 L404.23,290.59 L405.68,291.02 L407.14,291.46 L408.59,291.89 L410.05,292.33 L411.50,292.76 L412.95,293.19 L414.41,293.63 L415.86,294.06 L417.31,294.49 L418.77,294.92 L420.22,295.35 L421.68,295.78 L423.13,296.21 L424.58,296.64 L426.04,297.07 L427.49,297.50 L428.95,297.92 L430.40,298.35 L431.85,298.77 L433.31,299.19 L434.76,299.62 L436.21,300.04 L437.67,300.46 L439.12,300.87 L440.58,301.29 L442.03,301.71 L443.48,302.12 L444.94,302.53 L446.39,302.95 L447.84,303.36 L449.30,303.77 L450.75,304.17 L452.21,304.58 L453.66,304.98 L455.11,305.39 L456.57,305.79 L458.02,306.19 L459.48,306.59 L460.93,306.99 L462.38,307.38 L463.84,307.78 L465.29,308.17 L466.74,308.56 L468.20,308.95 L469.65,309.34 L471.11,309.72 L472.56,310.11 L474.01,310.49 L475.47,310.87 L476.92,311.25 L478.37,311.63 L479.83,312.01 L481.28,312.38 L482.74,312.75 L484.19,313.13 L485.64,313.49 L487.10,313.86 L488.55,314.23 L490.00,314.59 L491.46,314.96 L492.91,315.32 L494.37,315.68 L495.82,316.04 L497.27,316.39 L498.73,316.75 L500.18,317.10 L501.64,317.45 L503.09,317.80 L504.54,318.15 L506.00,318.49 L507.45,318.84 L508.90,319.18 L510.36,319.52 L511.81,319.86 L513.27,320.20 L514.72,320.53 L516.17,320.87 L517.63,321.20 L519.08,321.53 L520.53,321.86 L521.99,322.19 L523.44,322.51 L524.90,322.84 L526.35,323.16 L527.80,323.48 L529.26,323.80 L530.71,324.12 L532.17,324.43 L533.62,324.75 L535.07,325.06 L536.53,325.37 L537.98,325.68 L539.43,325.99 L540.89,326.30 L542.34,326.60 L543.80,326.91 L545.25,327.21 L546.70,327.51 L548.16,327.81 L549.61,328.10 L551.06,328.40 L552.52,328.69 L553.97,328.99 L555.43,329.28 L556.88,329.57 L558.33,329.85 L559.79,330.14 L561.24,330.43 L562.69,330.71 L564.15,330.99 L565.60,331.27 L567.06,331.55 L568.51,331.83 L569.96,332.10 L571.42,332.38 L572.87,332.65 L574.33,332.92 L575.78,333.19 L577.23,333.46 L578.69,333.73 L580.14,334.00 L581.59,334.26 L583.05,334.52 L584.50,334.79 L585.96,335.05 L587.41,335.30 L588.86,335.56 L590.32,335.82 L591.77,336.07 L593.22,336.33 L594.68,336.58 L596.13,336.83 L597.59,337.08 L599.04,337.33 L600.49,337.58 L601.95,337.82 L603.40,338.07 L604.86,338.31 L606.31,338.55 L607.76,338.79 L609.22,339.03 L610.67,339.27 L612.12,339.51 L613.58,339.74 L615.03,339.98 L616.49,340.21 L617.94,340.44 L619.39,340.67 L620.85,340.90 L622.30,341.13 L623.75,341.36 L625.21,341.58 L626.66,341.81 L628.12,342.03 L629.57,342.25 L631.02,342.47 L632.48,342.69 L633.93,342.91 L635.38,343.13 L636.84,343.35 L638.29,343.56 L639.75,343.78 L641.20,343.99 L642.65,344.20 L644.11,344.41 L645.56,344.62 L647.02,344.83 L648.47,345.04 L649.92,345.25 L651.38,345.45 L652.83,345.66 L654.28,345.86 L655.74,346.06 L657.19,346.26 L658.65,346.46 L660.10,346.66 L661.55,346.86 L663.01,347.06 L664.46,347.26 L665.91,347.45 L667.37,347.65 L668.82,347.84 L670.28,348.03 L671.73,348.22 L673.18,348.41 L674.64,348.60 L676.09,348.79 L677.55,348.98 L679.00,349.16 L680.45,349.35 L681.91,349.53 L683.36,349.72 L684.81,349.90 L686.27,350.08 L687.72,350.26 L689.18,350.44 L690.63,350.62 L692.08,350.80 L693.54,350.98 L694.99,351.15 L696.44,351.33 L697.90,351.50 L699.35,351.68 L700.81,351.85 L702.26,352.02 L703.71,352.19 L705.17,352.36 L706.62,352.53 L708.07,352.70 L709.53,352.87 L710.98,353.04 L712.44,353.20 L713.89,353.37 L715.34,353.53 L716.80,353.69 L718.25,353.86 L719.71,354.02 L721.16,354.18 L722.61,354.34 L724.07,354.50 L725.52,354.66 L726.97,354.82 L728.43,354.97 L729.88,355.13 L731.34,355.29 L732.79,355.44 L734.24,355.60 L735.70,355.75 L737.15,355.90 L738.60,356.05 L740.06,356.20 L741.51,356.36 L742.97,356.50 L744.42,356.65 L745.87,356.80 L747.33,356.95 L748.78,357.10 L750.24,357.24 L751.69,357.39 L753.14,357.53 L754.60,357.68 L756.05,357.82 L757.50,357.96 L758.96,358.10 L760.41,358.25 L761.87,358.39 L763.32,358.53 L764.77,358.67" stroke="#FFC000"/>
</g>
<g class="axes" opacity="0.22">
<line x1="24" y1="400.4" x2="780.3" y2="400.4"/>
</g>
<g class="labels" style="filter:grayscale(1)">
<text class="b" x="183.68" y="418.5" text-anchor="middle">2</text>
<text class="b" x="329.06" y="418.5" text-anchor="middle">4</text>
<text class="b" x="474.44" y="418.5" text-anchor="middle">6</text>
<text class="b" x="619.82" y="418.5" text-anchor="middle">8</text>
<text class="b" x="765.20" y="418.5" text-anchor="middle">10</text>
<text x="35.4" y="54.35" text-anchor="end">0.05</text>
<text x="35.4" y="124.60" text-anchor="end">0.04</text>
<text x="35.4" y="194.85" text-anchor="end">0.03</text>
<text x="35.4" y="265.10" text-anchor="end">0.02</text>
<text x="35.4" y="335.35" text-anchor="end">0.01</text>
<text class="b" x="34.4" y="475.55" text-anchor="end">−0.01</text>
<text class="b" x="27.7" y="13.7">V(r)</text>
<text class="b" x="792.0" y="406.6">r</text>
</g>
<g class="legendlines">
<line x1="581" y1="61.5" x2="607.6" y2="61.5" stroke="#000000" stroke-width="2.5"/>
<line x1="581" y1="87.5" x2="607.6" y2="87.5" stroke="#7030A0" stroke-width="2.5"/>
<line x1="581" y1="108.1" x2="607.6" y2="108.1" stroke="#C00000" stroke-width="2.5"/>
<line x1="581" y1="131.3" x2="607.6" y2="131.3" stroke="#FFC000" stroke-width="2.5"/>
</g>
<g class="legend" style="filter:grayscale(1)">
<text class="lg" x="617.2" y="65.9">Schwarzschild</text>
<text class="lg" x="617.8" y="89.0"><tspan font-style="italic">ρ</tspan><tspan class="sub" dy="4.2" dx="-0.7">s</tspan><tspan dy="-2.6" dx="4.6">=</tspan><tspan dy="-1.6" dx="4.5" font-size="14px">0.01</tspan></text>
<text class="lg" x="619.6" y="110.7"><tspan font-style="italic">ρ</tspan><tspan class="sub" dy="4.2" dx="-0.7">s</tspan><tspan dy="-2.6" dx="4.6">=</tspan><tspan dy="-1.6" dx="4.5" font-size="14px">0.03</tspan></text>
<text class="lg" x="617.8" y="133.5"><tspan font-style="italic">ρ</tspan><tspan class="sub" dy="4.2" dx="-0.7">s</tspan><tspan dy="-2.6" dx="4.6">=</tspan><tspan dy="-1.6" dx="4.5" font-size="14px">0.05</tspan></text>
</g>
</svg>
</body></html>
